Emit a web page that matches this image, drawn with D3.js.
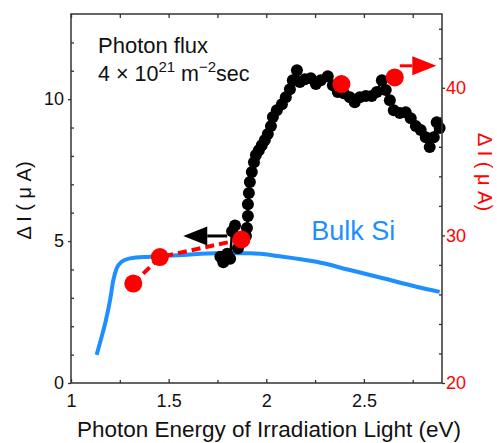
<!DOCTYPE html>
<html lang="en">
<head>
  <meta charset="UTF-8">
  <title>Photocurrent vs photon energy</title>
  <script src="https://d3js.org/d3.v7.min.js"></script>
  <style>
    body { margin: 0; background: #fff; }
    svg { display: block; font-family: Arial, "Liberation Sans", sans-serif; }
  </style>
</head>
<body>
  <div id="chart"></div>
  <script>
    // black dots (left axis, µA)
    const blackE = [1.765, 1.78, 1.80, 1.815, 1.825, 1.84, 1.855, 1.875, 1.896, 1.901, 1.906, 1.906, 1.911, 1.916,
      1.926, 1.937, 1.947, 1.962, 1.977, 1.993, 2.008, 2.024, 2.034, 2.054, 2.080, 2.100, 2.121, 2.136, 2.157,
      2.172, 2.198, 2.228, 2.254, 2.279, 2.315, 2.341, 2.366, 2.397, 2.428, 2.453, 2.479, 2.510, 2.540, 2.566,
      2.592, 2.612, 2.633, 2.653, 2.684, 2.714, 2.740, 2.766, 2.791, 2.817, 2.837, 2.858, 2.873, 2.888];
    const blackI = [4.45, 4.25, 4.55, 4.38, 5.35, 5.55, 4.75, 5.0, 5.18, 5.46, 5.88, 6.30, 6.69, 7.08,
      7.43, 7.78, 8.03, 8.20, 8.38, 8.56, 8.77, 9.05, 9.37, 9.61, 9.82, 10.07, 10.35, 10.67, 11.02,
      10.60, 10.70, 10.74, 10.53, 10.67, 10.81, 10.49, 10.25, 10.21, 10.07, 9.89, 10.07, 10.11, 10.11, 10.25,
      10.67, 10.32, 9.96, 9.61, 9.51, 9.54, 9.33, 9.05, 8.91, 8.66, 8.31, 8.66, 9.19, 8.98];

    // red circles (right axis, µA)
    const redE = [1.319, 1.455, 1.873, 2.385, 2.658];
    const redI = [26.74, 28.53, 29.73, 40.25, 40.70];

    // bulk Si reference (left axis)
    const bulkE = [1.131, 1.157, 1.179, 1.200, 1.217, 1.234, 1.259, 1.302, 1.404, 1.573, 1.746, 1.916,
      2.085, 2.257, 2.428, 2.598, 2.769, 2.888];
    const bulkI = [0.99, 1.63, 2.22, 2.92, 3.63, 4.04, 4.27, 4.39, 4.45, 4.51, 4.57, 4.57,
      4.45, 4.27, 3.98, 3.69, 3.39, 3.21];

    const xMajor = [1, 1.5, 2, 2.5];
    const xMinor = [1.25, 1.75, 2.25, 2.75];
    const yLeftMajor = [0, 5, 10];
    const yLeftMinor = [1, 2, 3, 4, 6, 7, 8, 9, 11, 12];
    const yRightMajor = [20, 30, 40];
    const yRightMinor = [22, 24, 26, 28, 32, 34, 36, 38, 42, 44];

    function drawChart() {
      const width = 497, height = 443;
      const margin = { top: 14, right: 55, bottom: 60, left: 71 };
      const svg = d3.select("#chart").append("svg")
        .attr("width", width)
        .attr("height", height);

      const x = d3.scaleLinear().domain([1, 2.9]).range([margin.left, width - margin.right]);
      const yL = d3.scaleLinear().domain([0, 13]).range([height - margin.bottom, margin.top]);
      const yR = d3.scaleLinear().domain([20, 45]).range([height - margin.bottom, margin.top]);

      const x0 = margin.left, x1 = width - margin.right;
      const y0 = height - margin.bottom, y1 = margin.top;

      // bulk Si
      svg.append("path")
        .datum(bulkE.map((e, i) => [e, bulkI[i]]))
        .attr("fill", "none")
        .attr("stroke", "#1e8fff")
        .attr("stroke-width", 4)
        .attr("d", d3.line().x(d => x(d[0])).y(d => yL(d[1])).curve(d3.curveMonotoneX));

      // black series
      const black = blackE.map((e, i) => [e, blackI[i]]);
      svg.append("path")
        .datum(black)
        .attr("fill", "none")
        .attr("stroke", "#000")
        .attr("stroke-width", 2.5)
        .attr("d", d3.line().x(d => x(d[0])).y(d => yL(d[1])));
      svg.selectAll("circle.blk")
        .data(black)
        .enter()
        .append("circle")
        .attr("class", "blk")
        .attr("cx", d => x(d[0]))
        .attr("cy", d => yL(d[1]))
        .attr("r", 6)
        .attr("fill", "#000");

      // red series, dashed line over the first three
      const red = redE.map((e, i) => [e, redI[i]]);
      svg.append("path")
        .datum(red.slice(0, 3))
        .attr("fill", "none")
        .attr("stroke", "#ff0000")
        .attr("stroke-width", 4)
        .attr("stroke-dasharray", "9,5")
        .attr("d", d3.line().x(d => x(d[0])).y(d => yR(d[1])));
      svg.selectAll("circle.red")
        .data(red)
        .enter()
        .append("circle")
        .attr("class", "red")
        .attr("cx", d => x(d[0]))
        .attr("cy", d => yR(d[1]))
        .attr("r", 9)
        .attr("fill", "#ff0000");

      // arrows
      function arrow(xa, xb, yy, color) {
        const dir = Math.sign(xb - xa);
        const tip = xb, base = xb - dir * 24;
        svg.append("line")
          .attr("x1", xa).attr("x2", base).attr("y1", yy).attr("y2", yy)
          .attr("stroke", color).attr("stroke-width", 3);
        svg.append("path")
          .attr("d", `M${tip},${yy}L${base},${yy - 9.5}L${base},${yy + 9.5}Z`)
          .attr("fill", color);
      }
      arrow(x(1.80), x(1.575), yL(5.18), "#000");
      arrow(x(2.684), x(2.871), yR(41.49), "#ff0000");

      // frame
      svg.append("rect")
        .attr("x", x0).attr("y", y1)
        .attr("width", x1 - x0).attr("height", y0 - y1)
        .attr("fill", "none").attr("stroke", "#333").attr("stroke-width", 1.5);

      const axisStyle = g => {
        g.select(".domain").remove();
        g.selectAll(".tick line").attr("stroke", "#333").attr("stroke-width", 1.3);
        g.attr("font-family", null).attr("font-size", 18);
      };

      svg.append("g").attr("transform", `translate(0,${y0})`)
        .call(d3.axisBottom(x).tickValues(xMajor).tickSize(-4).tickPadding(11).tickFormat(d3.format("")))
        .call(axisStyle)
        .selectAll("text").attr("fill", "#111");
      svg.append("g").attr("transform", `translate(0,${y0})`)
        .call(d3.axisBottom(x).tickValues(xMinor).tickSize(-3).tickFormat(""))
        .call(axisStyle);
      svg.append("g").attr("transform", `translate(0,${y1})`)
        .call(d3.axisTop(x).tickValues(xMajor.concat(xMinor)).tickSize(-4).tickFormat(""))
        .call(axisStyle);

      svg.append("g").attr("transform", `translate(${x0},0)`)
        .call(d3.axisLeft(yL).tickValues(yLeftMajor).tickSize(3).tickPadding(4))
        .call(axisStyle)
        .selectAll("text").attr("fill", "#111");
      svg.append("g").attr("transform", `translate(${x0},0)`)
        .call(d3.axisLeft(yL).tickValues(yLeftMinor).tickSize(-3).tickFormat(""))
        .call(axisStyle);

      svg.append("g").attr("transform", `translate(${x1},0)`)
        .call(d3.axisRight(yR).tickValues(yRightMajor).tickSize(3).tickPadding(1))
        .call(axisStyle)
        .selectAll("text").attr("fill", "#ff0000");
      svg.append("g").attr("transform", `translate(${x1},0)`)
        .call(d3.axisRight(yR).tickValues(yRightMinor).tickSize(-3).tickFormat(""))
        .call(axisStyle);

      // axis titles
      svg.append("text")
        .attr("transform", `translate(31,${(y0 + y1) / 2 + 2}) rotate(-90)`)
        .attr("text-anchor", "middle")
        .attr("font-size", 20)
        .attr("fill", "#111")
        .text("Δ I ( μ A)");
      svg.append("text")
        .attr("transform", `translate(478,172) rotate(90)`)
        .attr("text-anchor", "middle")
        .attr("font-size", 20)
        .attr("fill", "#ff0000")
        .text("Δ I ( μ A)");
      svg.append("text")
        .attr("x", 269)
        .attr("y", 437)
        .attr("text-anchor", "middle")
        .attr("font-size", 22.5)
        .attr("fill", "#111")
        .text("Photon Energy of Irradiation Light (eV)");

      // annotation
      svg.append("text")
        .attr("x", 98).attr("y", 53)
        .attr("font-size", 22)
        .attr("fill", "#111")
        .text("Photon flux");
      const flux = svg.append("text")
        .attr("x", 98).attr("y", 81)
        .attr("font-size", 21.5)
        .attr("fill", "#111");
      flux.append("tspan").text("4 × 10");
      flux.append("tspan").attr("dy", -9).attr("font-size", 15).text("21");
      flux.append("tspan").attr("dy", 9).text(" m");
      flux.append("tspan").attr("dy", -9).attr("font-size", 15).text("−2");
      flux.append("tspan").attr("dy", 9).text("sec");

      svg.append("text")
        .attr("x", x(2.23)).attr("y", yL(5.03))
        .attr("font-size", 27)
        .attr("fill", "#1e8fff")
        .text("Bulk Si");
    }

    drawChart();
  </script>
</body>
</html>
